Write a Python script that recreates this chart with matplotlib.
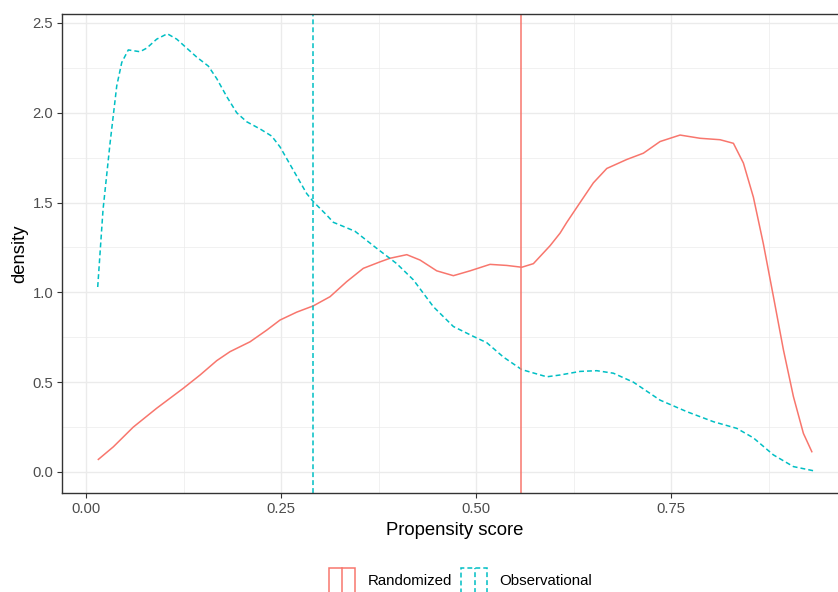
import matplotlib.pyplot as plt
from matplotlib.patches import Rectangle
from matplotlib.lines import Line2D

plt.rcParams['font.family'] = ['Liberation Sans', 'DejaVu Sans']

# density curves
obs_x = [0.0150, 0.0218, 0.0308, 0.0394, 0.0458, 0.0542, 0.0692, 0.0778, 0.0906, 0.1042,
         0.1163, 0.1291, 0.1419, 0.1568, 0.1676, 0.1804, 0.1932, 0.2060, 0.2231, 0.2381,
         0.2487, 0.2658, 0.2829, 0.2914, 0.3086, 0.3171, 0.3256, 0.3449, 0.3727, 0.3983,
         0.4196, 0.4453, 0.4709, 0.4965, 0.5137, 0.5350, 0.5586, 0.5906, 0.6077, 0.6333,
         0.6547, 0.6760, 0.7017, 0.7359, 0.7701, 0.8042, 0.8342, 0.8555, 0.8812, 0.9068,
         0.9324]
obs_y = [1.03, 1.46, 1.83, 2.15, 2.28, 2.35, 2.34, 2.36, 2.41, 2.44,
         2.41, 2.36, 2.31, 2.26, 2.19, 2.09, 2.00, 1.95, 1.91, 1.87,
         1.81, 1.68, 1.55, 1.505, 1.43, 1.39, 1.375, 1.34, 1.245, 1.16,
         1.07, 0.92, 0.81, 0.755, 0.72, 0.64, 0.57, 0.53, 0.54, 0.56,
         0.564, 0.55, 0.50, 0.40, 0.336, 0.28, 0.243, 0.19, 0.095, 0.03,
         0.007]

rand_x = [0.0158, 0.0350, 0.0606, 0.0906, 0.1247, 0.1462, 0.1676, 0.1846, 0.2103, 0.2317,
          0.2487, 0.2701, 0.2914, 0.3128, 0.3342, 0.3555, 0.3769, 0.3897, 0.4112, 0.4282,
          0.4496, 0.4709, 0.4923, 0.5179, 0.5394, 0.5586, 0.5735, 0.5949, 0.6077, 0.6163,
          0.6333, 0.6504, 0.6676, 0.6932, 0.7145, 0.7359, 0.7615, 0.7872, 0.8128, 0.8299,
          0.8427, 0.8555, 0.8683, 0.8812, 0.8940, 0.9068, 0.9196, 0.9304]
rand_y = [0.07, 0.14, 0.25, 0.355, 0.466, 0.54, 0.62, 0.67, 0.725, 0.79,
          0.846, 0.89, 0.925, 0.976, 1.06, 1.134, 1.17, 1.19, 1.21, 1.18,
          1.12, 1.093, 1.12, 1.156, 1.15, 1.14, 1.16, 1.26, 1.33, 1.39,
          1.50, 1.61, 1.69, 1.74, 1.775, 1.84, 1.876, 1.858, 1.85, 1.83,
          1.72, 1.53, 1.27, 0.976, 0.68, 0.42, 0.215, 0.113]

obs_mean = 0.291
rand_mean = 0.558

groups = ['Randomized', 'Observational']
red = '#F8766D'
cyan = '#00BFC4'

W, H = 838, 592
fig = plt.figure(figsize=(W / 100, H / 100), dpi=100)
left, bottom, top = 62.3, 493, 14
ax = fig.add_axes([left / W, 1 - bottom / H, 784 / W, (bottom - top) / H])

dash = (3.2, 2.0)
ax.plot(rand_x, rand_y, color=red, lw=1.1)
ax.plot(obs_x, obs_y, color=cyan, lw=1.1, ls=(0, dash))
ax.axvline(rand_mean, color=red, lw=1.1)
ax.axvline(obs_mean, color=cyan, lw=1.1, ls=(0, dash))

ax.set_xlim(-0.0304, 0.9746)
ax.set_ylim(-0.117, 2.55)
ax.set_xticks([0, 0.25, 0.5, 0.75])
ax.set_xticklabels(['0.00', '0.25', '0.50', '0.75'])
ax.set_yticks([0, 0.5, 1.0, 1.5, 2.0, 2.5])
ax.set_yticklabels(['0.0', '0.5', '1.0', '1.5', '2.0', '2.5'])
ax.set_xticks([0.125, 0.375, 0.625, 0.875], minor=True)
ax.set_yticks([0.25, 0.75, 1.25, 1.75, 2.25], minor=True)
ax.grid(which='major', color='#EBEBEB', lw=1.0)
ax.grid(which='minor', color='#EBEBEB', lw=0.5)
ax.set_axisbelow(True)
ax.tick_params(which='major', length=3.5, width=0.8, color='#333333',
               labelsize=10.7, labelcolor='#4D4D4D', pad=3)
ax.tick_params(which='minor', length=0)
for s in ax.spines.values():
    s.set_color('#333333')
    s.set_linewidth(1.0)

ax.set_xlabel('Propensity score', fontsize=13.3, labelpad=4)
ax.set_ylabel('density', fontsize=13.3, labelpad=3)

# legend drawn at the bottom, as ggplot does
def fx(px):
    return px / W

def fy(py):
    return 1 - py / H

keys = [(329, 342, 368, red, '-'), (461, 475, 499, cyan, (0, dash))]
for (kx, lx, tx, col, style), name in zip(keys, groups):
    fig.add_artist(Rectangle((fx(kx), fy(605)), fx(26), 37 / H, fill=False,
                             edgecolor=col, lw=1.1, ls=style))
    fig.add_artist(Line2D([fx(lx), fx(lx)], [fy(605), fy(568)], color=col,
                          lw=1.1, ls=style))
    fig.text(fx(tx), fy(581), name, fontsize=10.8, va='center', ha='left')

fig.savefig('out.png', dpi=100)
